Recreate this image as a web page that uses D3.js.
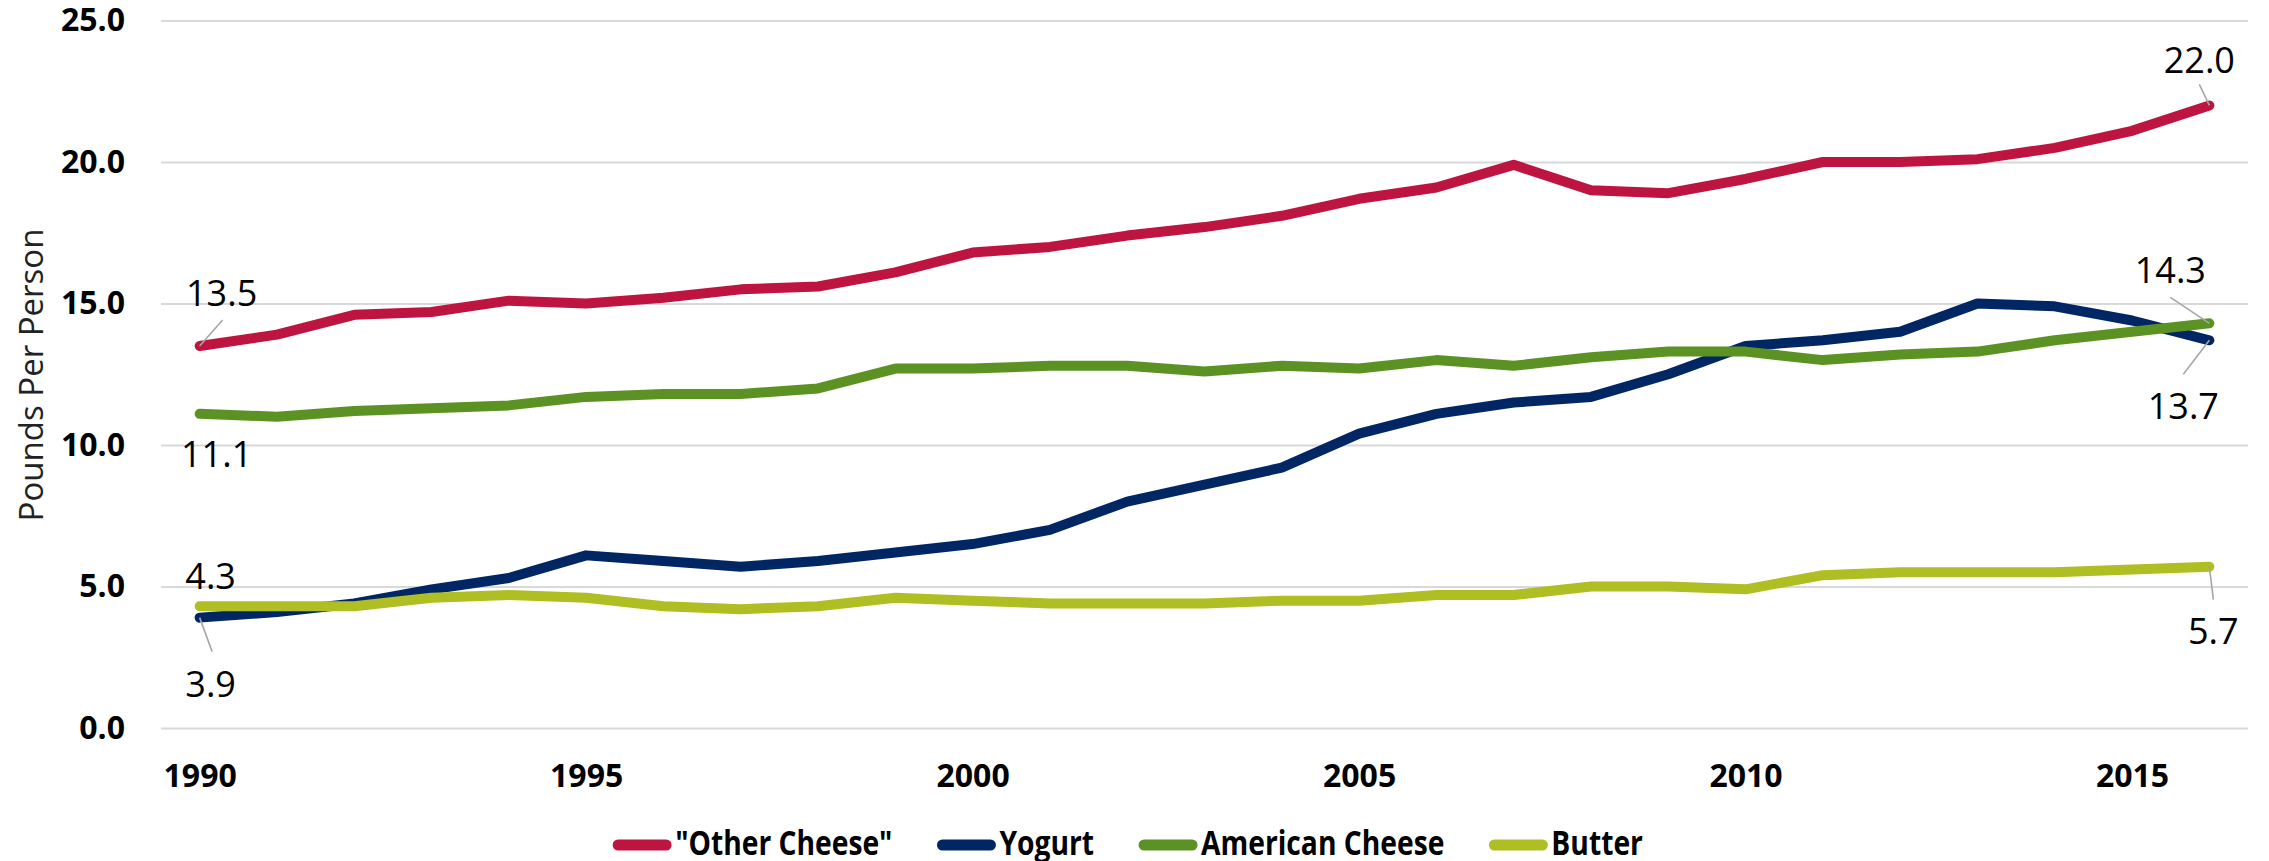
<!DOCTYPE html>
<html>
<head>
<meta charset="utf-8">
<script src="https://cdn.jsdelivr.net/npm/d3@7"></script>
<style>
  html, body { margin: 0; padding: 0; background: #fff; }
  svg { display: block; }
</style>
</head>
<body>
<svg id="chart" width="2269" height="861"></svg>
<script>
// ---- Data ----
const years = d3.range(1990, 2017);
const xTickLabels = [1990, 1995, 2000, 2005, 2010, 2015];
const yTicks = [0, 5, 10, 15, 20, 25];
const seriesNames = ['"Other Cheese"', "Yogurt", "American Cheese", "Butter"];
const otherCheese = [13.5,13.9,14.6,14.7,15.1,15.0,15.2,15.5,15.6,16.1,16.8,17.0,17.4,17.7,18.1,18.7,19.1,19.9,19.0,18.9,19.4,20.0,20.0,20.1,20.5,21.1,22.0];
const yogurt = [3.9,4.1,4.4,4.9,5.3,6.1,5.9,5.7,5.9,6.2,6.5,7.0,8.0,8.6,9.2,10.4,11.1,11.5,11.7,12.5,13.5,13.7,14.0,15.0,14.9,14.4,13.7];
const americanCheese = [11.1,11.0,11.2,11.3,11.4,11.7,11.8,11.8,12.0,12.7,12.7,12.8,12.8,12.6,12.8,12.7,13.0,12.8,13.1,13.3,13.3,13.0,13.2,13.3,13.7,14.0,14.3];
const butter = [4.3,4.3,4.3,4.6,4.7,4.6,4.3,4.2,4.3,4.6,4.5,4.4,4.4,4.4,4.5,4.5,4.7,4.7,5.0,5.0,4.9,5.4,5.5,5.5,5.5,5.6,5.7];
const yTitle = "Pounds Per Person";

// ---- Styles ----
const colors = ["#BE1440", "#002664", "#5B9223", "#AFBE22"];
const seriesValues = [otherCheese, yogurt, americanCheese, butter];
// label offsets (px) for first / last point labels: [dx, dy, leaderDx, leaderDy] (null leader = none)
const labelStyle = [
  { first: [22, -40, 23, -26], last: [-10, -32, -10, -21] },
  { first: [11, 79, 12.5, 34], last: [-26, 79, -26, 34] },
  { first: [17, 53, null, null], last: [-39, -40, -39, -26] },
  { first: [11, -17, null, null], last: [4, 77, 4, 33] }
];

const svg = d3.select("#chart");
const plotLeft = 161, plotRight = 2248, plotTop = 20.5, plotBottom = 728;

const x = d3.scalePoint().domain(years).range([plotLeft, plotRight]).padding(0.5);
const y = d3.scaleLinear().domain([0, 25]).range([plotBottom, plotTop]);

// grid + y axis
const yAxis = svg.append("g")
  .attr("transform", `translate(${plotLeft},0)`)
  .call(d3.axisLeft(y).tickValues(yTicks).tickSize(-(plotRight - plotLeft)).tickPadding(36).tickFormat(d3.format(".1f")));
yAxis.select(".domain").remove();
yAxis.selectAll(".tick line").attr("stroke", "#d9d9d9").attr("stroke-width", 2);
yAxis.selectAll(".tick text")
  .attr("font-family", "'Open Sans', sans-serif")
  .attr("font-weight", "bold")
  .attr("font-size", 32)
  .attr("fill", "#000");

// x axis
const xAxis = svg.append("g")
  .attr("transform", `translate(0,${plotBottom})`)
  .call(d3.axisBottom(x).tickValues(xTickLabels).tickSize(0).tickPadding(36));
xAxis.select(".domain").remove();
xAxis.selectAll(".tick text")
  .attr("font-family", "'Open Sans', sans-serif")
  .attr("font-weight", "bold")
  .attr("font-size", 32)
  .attr("fill", "#000");

// y title
svg.append("text")
  .attr("transform", `translate(30,375) rotate(-90)`)
  .attr("text-anchor", "middle")
  .attr("dominant-baseline", "central")
  .attr("font-family", "'Open Sans', sans-serif")
  .attr("font-size", 33)
  .attr("fill", "#222")
  .text(yTitle);

// lines
const line = d3.line().x((d, i) => x(years[i])).y(d => y(d));
seriesValues.forEach((vals, si) => {
  svg.append("path")
    .datum(vals)
    .attr("d", line)
    .attr("fill", "none")
    .attr("stroke", colors[si])
    .attr("stroke-width", 10)
    .attr("stroke-linecap", "round")
    .attr("stroke-linejoin", "round");
});

// data labels
const fmt = d3.format(".1f");
seriesValues.forEach((vals, si) => {
  [["first", 0], ["last", vals.length - 1]].forEach(([k, idx]) => {
    const [dx, dy, lx, ly] = labelStyle[si][k];
    const px = x(years[idx]), py = y(vals[idx]);
    if (lx !== null) {
      svg.append("line")
        .attr("x1", px).attr("y1", py)
        .attr("x2", px + lx).attr("y2", py + ly)
        .attr("stroke", "#a6a6a6").attr("stroke-width", 1.6);
    }
    svg.append("text")
      .attr("x", px + dx).attr("y", py + dy)
      .attr("text-anchor", "middle")
      .attr("font-family", "'Open Sans', sans-serif")
      .attr("font-size", 36)
      .attr("fill", "#000")
      .text(fmt(vals[idx]));
  });
});

// legend
const legend = svg.append("g");
const legendY = 845;
let cx = 0;
seriesNames.forEach((name, i) => {
  const g = legend.append("g").attr("transform", `translate(${cx},0)`);
  g.append("line")
    .attr("x1", 5).attr("x2", 53)
    .attr("y1", legendY).attr("y2", legendY)
    .attr("stroke", colors[i]).attr("stroke-width", 11).attr("stroke-linecap", "round");
  const t = g.append("text")
    .attr("x", 62).attr("y", legendY + 10)
    .attr("font-family", "'Open Sans', sans-serif")
    .attr("font-weight", "bold")
    .attr("font-size", 34)
    .attr("fill", "#000")
    .text(name);
  const w = t.node().getComputedTextLength() * 0.83;
  t.attr("textLength", w).attr("lengthAdjust", "spacingAndGlyphs");
  cx += 62 + w + 45;
});
const totalW = cx - 45;
legend.attr("transform", `translate(${1128 - totalW / 2},0)`);
</script>
</body>
</html>
